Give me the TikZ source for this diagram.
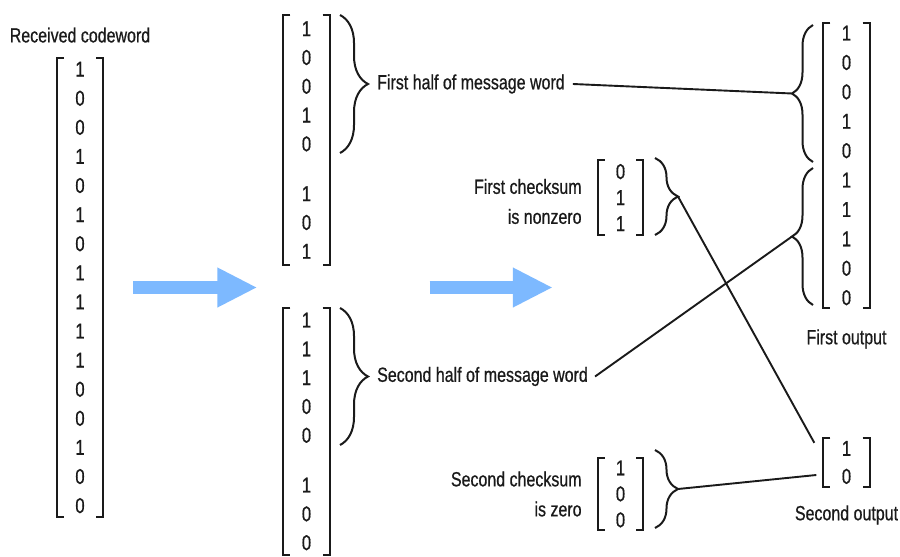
\documentclass[tikz,border=0pt]{standalone}
\usepackage{fontspec}
\setmainfont{Liberation Sans}[FakeStretch=0.78, FakeBold=0.6]
\usepackage{tikz}
\usetikzlibrary{arrows.meta, positioning, decorations.pathreplacing}
\usepackage{xcolor}
\definecolor{mFlow}{HTML}{7DB9FF}
\definecolor{mInk}{HTML}{1A1A1A}
\newcommand{\vbrackets}[1]{%
  \draw[brk] ([xshift=7pt]#1.north west) -- (#1.north west) -- (#1.south west) -- ([xshift=7pt]#1.south west);
  \draw[brk] ([xshift=-7pt]#1.north east) -- (#1.north east) -- (#1.south east) -- ([xshift=-7pt]#1.south east);}

\begin{document}
\begin{tikzpicture}[
  x=1pt, y=-1pt,
  vec/.style 2 args={align=center, inner sep=0pt, minimum width=46pt, minimum height=#1,
                     font=\fontsize{21.5}{#2}\selectfont\color{mInk}},
  lbl/.style={inner sep=2pt, font=\fontsize{20.5}{30}\selectfont\color{mInk}},
  brk/.style={line width=2.2pt, mInk},
  brace/.style={decorate, decoration={brace, amplitude=#1}, line width=2pt, mInk},
  link/.style={line width=1.9pt, mInk},
  flow/.style={-{Triangle[length=40pt, width=37pt]}, line width=13pt, mFlow}]
  \path[use as bounding box, fill=white] (0,0) rectangle (900,557);
  % column 1: received codeword
  \node[vec={459pt}{29.1pt}] (recv) at (80,287.5)
    {1\\0\\0\\1\\0\\1\\0\\1\\1\\1\\1\\0\\0\\1\\0\\0};
  \node[lbl, above=13pt of recv] (recvlbl) {Received codeword};
  % column 2: split into two halves
  \node[vec={250pt}{28.8pt}] (mtop) at (306.5,140) {1\\0\\0\\1\\0\\[21pt]1\\0\\1};
  \node[vec={247pt}{28.8pt}] (mbot) at (306.5,431.5) {1\\1\\1\\0\\0\\[21pt]1\\0\\0};
  % column 3: checksums
  \node[vec={75pt}{26pt}, minimum width=45pt] (chk1) at (620.5,197.5) {0\\1\\1};
  \node[vec={72pt}{26pt}, minimum width=45pt] (chk2) at (620.5,494) {1\\0\\0};
  \node[lbl, align=right, left=14pt of chk1, yshift=-4pt] (chk1lbl) {First checksum\\is nonzero};
  \node[lbl, align=right, left=14pt of chk2] (chk2lbl) {Second checksum\\is zero};
  % column 4: outputs
  \node[vec={285pt}{29.4pt}] (out1) at (846.5,165.5) {1\\0\\0\\1\\0\\1\\1\\1\\0\\0};
  \node[vec={49pt}{28pt}] (out2) at (846.5,462.5) {1\\0};
  \node[lbl, below=19pt of out1] (out1lbl) {First output};
  \node[lbl, below=16pt of out2] (out2lbl) {Second output};
  \foreach \v in {recv, mtop, mbot, chk1, chk2, out1, out2}
    \vbrackets{\v};
  % braces
  \draw[brace=28pt] (340,15) -- (340,153) coordinate[midway, xshift=28pt] (tipA);
  \draw[brace=28pt] (340,308) -- (340,445) coordinate[midway, xshift=28pt] (tipB);
  \draw[brace=23pt] (655,158) -- (655,235) coordinate[midway, xshift=23pt] (tipC);
  \draw[brace=23pt] (655,450) -- (655,528) coordinate[midway, xshift=23pt] (tipD);
  \draw[brace=21pt] (813,162) -- (813,25) coordinate[midway, xshift=-21pt] (tipE);
  \draw[brace=21pt] (813,305) -- (813,168) coordinate[midway, xshift=-21pt] (tipF);
  \node[lbl, right=7pt of tipA] (half1) {First half of message word};
  \node[lbl, right=7pt of tipB] (half2) {Second half of message word};
  \coordinate (o2a) at ([shift={(-9,5)}]out2.north west);
  \coordinate (o2b) at ([shift={(-7,12.5)}]out2.west);
  % connectors
  \draw[link] ([xshift=6pt]half1.east) -- (tipE);
  \draw[link] ([xshift=5pt]half2.east) -- (tipF);
  \draw[link] (tipC) -- (o2a);
  \draw[link] (tipD) -- (o2b);
  % flow arrows
  \draw[flow, shorten <=30pt, shorten >=26pt] (recv.east) -- (recv.east -| mtop.west);
  \draw[flow, shorten <=100pt, shorten >=45pt] (recv.east -| mtop.east) -- (recv.east -| chk1.west);
\end{tikzpicture}
\end{document}
